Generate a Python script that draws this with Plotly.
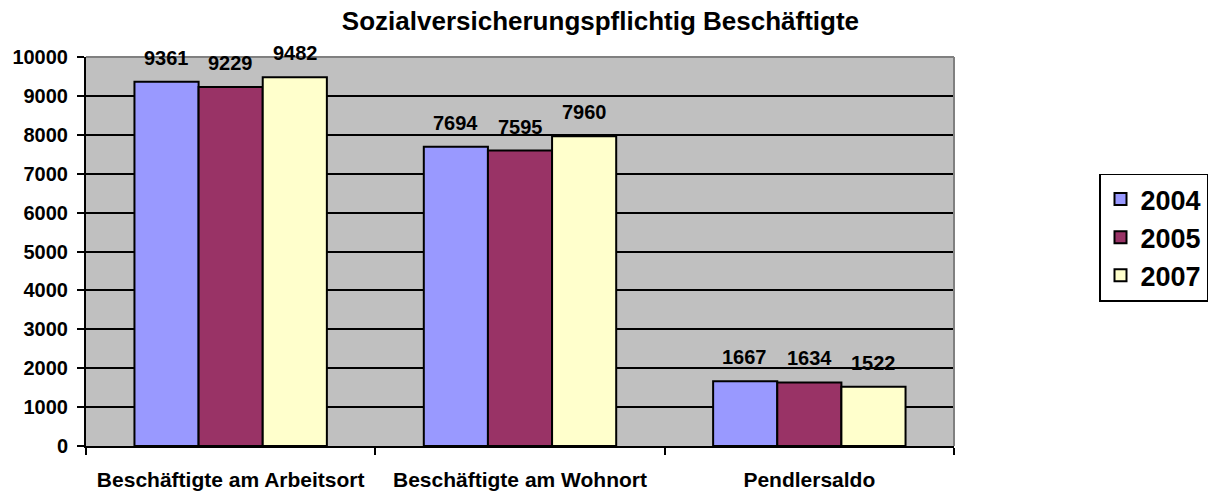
import plotly.graph_objects as go

categories = ["Beschäftigte am Arbeitsort", "Beschäftigte am Wohnort", "Pendlersaldo"]
years = ["2004", "2005", "2007"]
v2004 = [9361, 7694, 1667]
v2005 = [9229, 7595, 1634]
v2007 = [9482, 7960, 1522]
colors = ["#9999FF", "#993366", "#FFFFCC"]

font_family = "Liberation Sans, Arial, sans-serif"
fig = go.Figure()
offsets = [-64.5, 0, 64.5]
for i, (name, vals, col) in enumerate(zip(years, [v2004, v2005, v2007], colors)):
    fig.add_trace(go.Bar(
        name=name, x=categories, y=vals, legendgroup=name,
        marker=dict(color=col, line=dict(color="black", width=2)),
    ))
    for c, v in zip(categories, vals):
        fig.add_annotation(x=c, y=v, xref="x", yref="y", text=f"<b>{v}</b>", showarrow=False,
                           xshift=offsets[i], yshift=11, yanchor="bottom",
                           font=dict(family=font_family, size=20, color="black"))

fig.update_layout(
    width=1218, height=492,
    margin=dict(l=86, r=264, t=57, b=46, autoexpand=False),
    paper_bgcolor="white", plot_bgcolor="#C0C0C0",
    barmode="group", bargap=0.335, bargroupgap=0,
    title=dict(text="<b>Sozialversicherungspflichtig Beschäftigte</b>", x=0.493, xref="container",
               xanchor="center", y=1 - 21 / 492, yref="container", yanchor="middle",
               font=dict(family=font_family, size=26, color="black")),
    font=dict(family=font_family, color="black"),
    legend=dict(x=1099 / 1218, y=1 - 237.5 / 492, xref="container", yref="container",
                xanchor="left", yanchor="middle",
                bordercolor="black", borderwidth=1.5,
                font=dict(family=font_family, size=27, color="black", weight="bold"),
                itemsizing="constant", tracegroupgap=0),
    showlegend=True,
)
fig.update_yaxes(range=[0, 10000], dtick=1000, tickformat="d", showgrid=True, gridcolor="black", gridwidth=1.5,
                 showline=True, linecolor="black", linewidth=2, ticks="outside", ticklen=7,
                 tickcolor="black", tickwidth=2, zeroline=False, ticklabelstandoff=5, automargin=False,
                 tickfont=dict(family=font_family, size=20, color="black", weight="bold"))
fig.update_xaxes(showline=True, linecolor="black", linewidth=2, ticks="outside", tickson="boundaries",
                 ticklen=7, tickcolor="black", tickwidth=2, ticklabelstandoff=14, automargin=False,
                 tickfont=dict(family=font_family, size=21, color="black", weight="bold"))
fig.add_shape(type="line", xref="paper", yref="paper", x0=0, x1=1, y0=1, y1=1,
              line=dict(color="#808080", width=2))
fig.add_shape(type="line", xref="paper", yref="paper", x0=1, x1=1, y0=0, y1=1,
              line=dict(color="#808080", width=2))
fig.write_html("out.html", config={"displayModeBar": False},
               post_script="document.body.style.margin='0';")
